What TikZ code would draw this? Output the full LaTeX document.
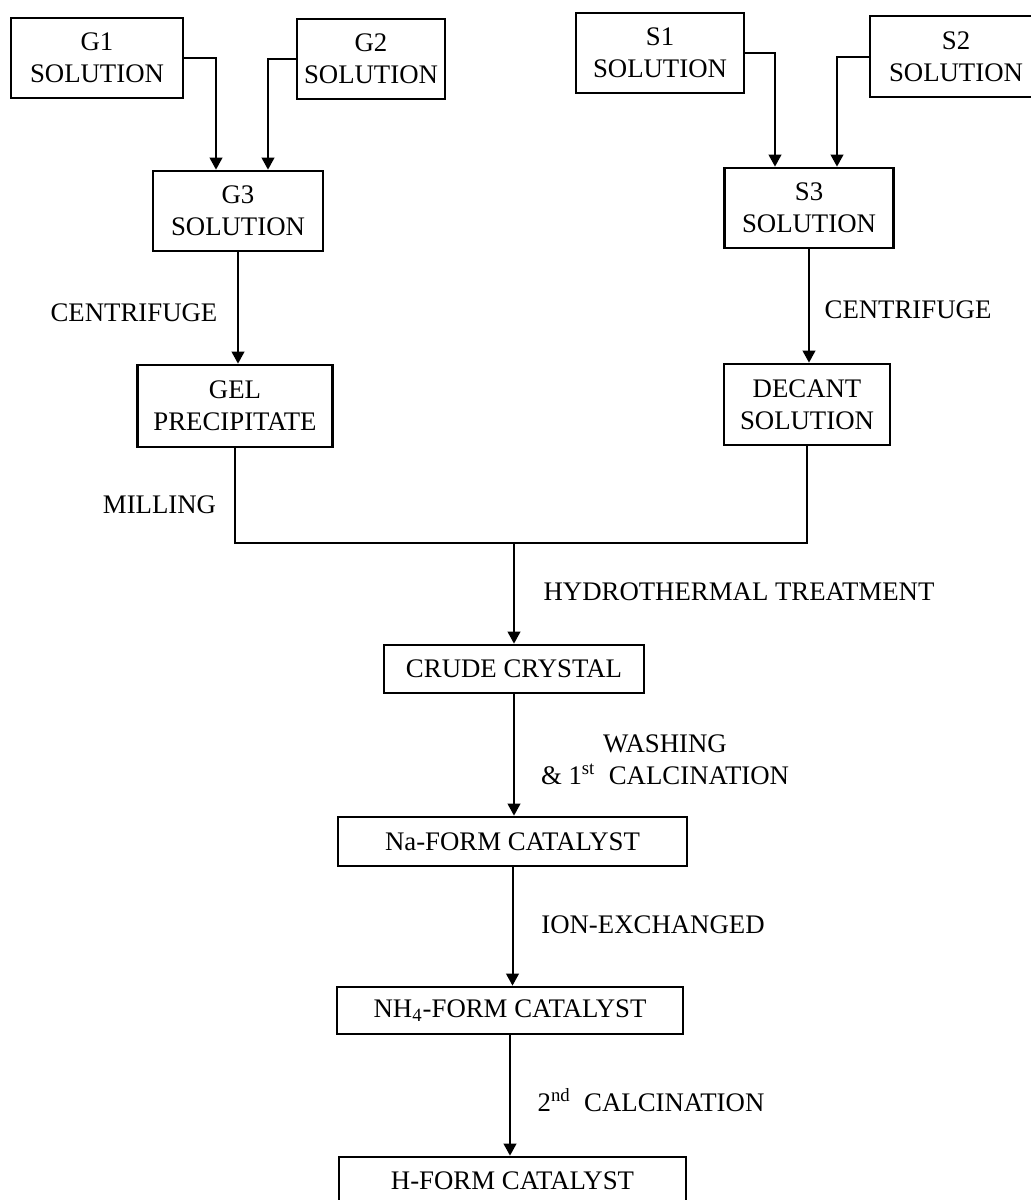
\documentclass[tikz,border=0pt]{standalone}
\usepackage{fontspec}
\setmainfont{Liberation Serif}
\usetikzlibrary{arrows.meta,calc}
\begin{document}
\begin{tikzpicture}[x=0.5pt,y=-0.5pt,
  every node/.style={font=\fontsize{13.4}{16}\selectfont, align=center, inner sep=0pt},
  box/.style={draw, line width=1.35pt, minimum width=#1*0.5pt},
  conn/.style={line width=1pt},
  arr/.style={conn, -{Triangle[width=6.3pt,length=6pt]}}
]
\clip (0,0) rectangle (1031,1200);
\fill[white] (0,0) rectangle (1031,1200);

% top boxes
\node[box=172, minimum height=40pt] (G1) at (97,58) {G1\\SOLUTION};
\node[box=148, minimum height=40pt] (G2) at (371,59) {G2\\SOLUTION};
\node[box=170, minimum height=40pt] (G3) at (238,211) {G3\\SOLUTION};
\node[box=168, minimum height=40pt] (S1) at (660,53) {S1\\SOLUTION};
\node[box=172, minimum height=40.5pt] (S2) at (956,56.5) {S2\\SOLUTION};
\node[box=169, minimum height=40pt] (S3) at (809,208) {S3\\SOLUTION};
\node[box=195, minimum height=41pt] (GEL) at (235,406) {GEL\\PRECIPITATE};
\node[box=166, minimum height=40.5pt] (DEC) at (807,404.5) {DECANT\\SOLUTION};
\node[box=260, minimum height=24pt] (CRUDE) at (514,669) {CRUDE CRYSTAL};
\node[box=349, minimum height=24.5pt] (NA) at (512.5,841.5) {Na-FORM CATALYST};
\node[box=346, minimum height=23.5pt] (NH) at (510,1010.5) {NH\textsubscript{4}-FORM CATALYST};
\node[box=347, minimum height=24pt] (HF) at (512.5,1181) {H-FORM CATALYST};

% labels
\node (cl) at (134,313) {CENTRIFUGE};
\node (ml) at (159.5,505) {MILLING};
\node (cr) at (908,310) {CENTRIFUGE};
\node (ht) at (739,592) {HYDROTHERMAL TREATMENT};
\node (wa) at (665,760) {WASHING\\\& 1\textsuperscript{st}\ \ CALCINATION};
\node (ie) at (653,925) {ION-EXCHANGED};
\node (c2) at (651,1100) {2\textsuperscript{nd}\ \ CALCINATION};

% entry coordinates
\coordinate (g3a) at ($(G3.north)+(-22,0)$);
\coordinate (g3b) at ($(G3.north)+(30,0)$);
\coordinate (s3a) at ($(S3.north)+(-34,0)$);
\coordinate (s3b) at ($(S3.north)+(28,0)$);
\coordinate (join) at (514,543);

% connectors
\draw[arr] (G1.east) -| (g3a);
\draw[arr] (G2.west) -| (g3b);
\draw[arr] (S1.east) -| (s3a);
\draw[arr] (S2.west) -| (s3b);
\draw[arr] (G3.south) -- (G3.south |- GEL.north);
\draw[arr] (S3.south) -- (S3.south |- DEC.north);
\draw[conn] (GEL.south) |- (join) -| (DEC.south);
\draw[arr] (join) -- (CRUDE.north);
\draw[arr] (CRUDE.south) -- (CRUDE.south |- NA.north);
\draw[arr] (NA.south) -- (NA.south |- NH.north);
\draw[arr] (NH.south) -- (NH.south |- HF.north);
\end{tikzpicture}
\end{document}
